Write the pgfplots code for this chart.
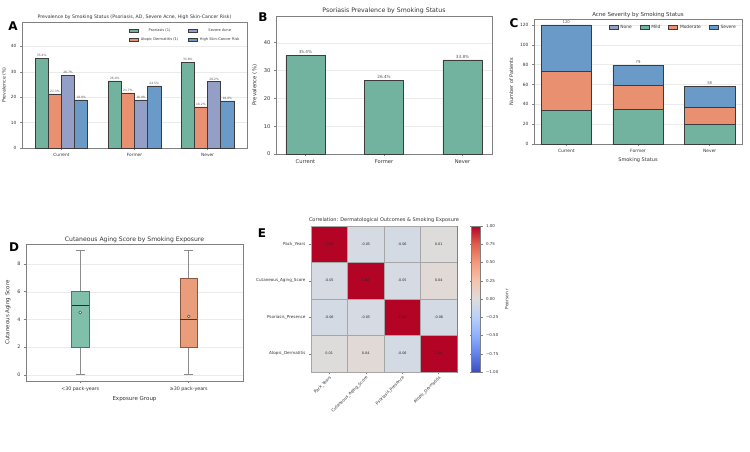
\documentclass[border=0pt]{standalone}
\usepackage{fontspec}
\setmainfont{DejaVu Sans}
\usepackage{pgfplots}
\usepackage{pgfplotstable}
\pgfplotsset{compat=1.18}
\usepgfplotslibrary{statistics}

\definecolor{cpso}{RGB}{114,179,160}
\definecolor{cad}{RGB}{232,144,111}
\definecolor{cacne}{RGB}{147,159,198}
\definecolor{crisk}{RGB}{106,154,200}
\definecolor{edge}{RGB}{60,60,60}
\definecolor{spine}{RGB}{128,128,128}
\definecolor{txt}{RGB}{51,51,51}
\definecolor{lbl}{RGB}{85,85,85}
\definecolor{dgreen}{RGB}{128,192,170}
\definecolor{dgreenedge}{RGB}{70,120,105}
\definecolor{dorange}{RGB}{233,157,123}
\definecolor{dorangeedge}{RGB}{140,88,66}

\pgfplotsset{
  /pgf/number format/assume math mode=true,
  colormap={coolwarm}{rgb255=(59,76,192) rgb255=(98,130,234) rgb255=(141,176,254) rgb255=(184,208,249) rgb255=(221,221,221) rgb255=(245,196,173) rgb255=(244,154,123) rgb255=(222,96,77) rgb255=(180,4,38)},
  lb/.style={legend image code/.code={\draw[##1] (0pt,-1.8pt) rectangle (9pt,1.8pt);}},
  panel/.style={
    scale only axis, anchor=south west,
    axis line style={spine, line width=0.6pt},
    tick align=outside, major tick length=2pt,
    tick style={spine, line width=0.5pt},
    xtick pos=bottom, ytick pos=left,
    ymajorgrids, grid style={black!8, line width=0.4pt},
    tick label style={font=\fontsize{4.7}{5}\selectfont, text=txt},
    label style={font=\fontsize{5}{6}\selectfont, text=txt},
    title style={font=\fontsize{6}{7}\selectfont, text=txt},
  },
}

\pgfplotstableread{
x y c lab
0 0 1.00 1.00
1 0 -0.05 -0.05
2 0 -0.06 -0.06
3 0 0.01 0.01
0 1 -0.05 -0.05
1 1 1.00 1.00
2 1 -0.05 -0.05
3 1 0.04 0.04
0 2 -0.06 -0.06
1 2 -0.05 -0.05
2 2 1.00 1.00
3 2 -0.06 -0.06
0 3 0.01 0.01
1 3 0.04 0.04
2 3 -0.06 -0.06
3 3 1.00 1.00
}\corrtab

\begin{document}
\begin{tikzpicture}
\path[use as bounding box] (0pt,0pt) rectangle (750pt,451pt);

% ---------------- Panel A ----------------
\begin{axis}[panel, at={(22pt,303pt)}, width=225pt, height=126pt,
  xmin=-0.54, xmax=2.54, ymin=0, ymax=49.6,
  ybar=0pt, bar width=0.18,
  xtick={0,1,2}, xticklabels={Current,Former,Never},
  ytick={0,10,20,30,40},
  tick label style={font=\fontsize{4.3}{5}\selectfont, text=txt},
  ylabel={Prevalence (\%)},
  label style={font=\fontsize{4.7}{5}\selectfont, text=txt},
  ylabel style={yshift=-2pt},
  title={Prevalence by Smoking Status (Psoriasis, AD, Severe Acne, High Skin-Cancer Risk)},
  title style={font=\fontsize{4.7}{5}\selectfont, text=txt, yshift=-7.5pt},
  nodes near coords={\pgfmathprintnumber[fixed,fixed zerofill,precision=1]{\pgfplotspointmeta}\%},
  nodes near coords style={font=\fontsize{3}{3.5}\selectfont, text=lbl, inner sep=1pt},
  legend columns=2, transpose legend,
  legend style={at={(0.99,0.98)}, anchor=north east, draw=none, fill=none,
    font=\fontsize{3.6}{4.2}\selectfont, text=txt,
    /tikz/every even column/.append style={column sep=8pt}, row sep=0.5pt},
]
\addplot[lb, fill=cpso, draw=edge, line width=0.5pt] coordinates {(0,35.4) (1,26.4) (2,33.8)};
\addlegendentry{Psoriasis (1)}
\addplot[lb, fill=cad, draw=edge, line width=0.5pt] coordinates {(0,21.3) (1,21.7) (2,16.2)};
\addlegendentry{Atopic Dermatitis (1)}
\addplot[lb, fill=cacne, draw=edge, line width=0.5pt] coordinates {(0,28.7) (1,18.9) (2,26.2)};
\addlegendentry{Severe Acne}
\addplot[lb, fill=crisk, draw=edge, line width=0.5pt] coordinates {(0,18.9) (1,24.5) (2,18.6)};
\addlegendentry{High Skin-Cancer Risk}
\end{axis}

% ---------------- Panel B ----------------
\begin{axis}[panel, at={(276pt,297pt)}, width=216pt, height=138pt,
  xmin=-0.375, xmax=2.375, ymin=0, ymax=49.6,
  ybar, bar width=0.5,
  xtick={0,1,2}, xticklabels={Current,Former,Never},
  ytick={0,10,20,30,40},
  tick label style={font=\fontsize{5.2}{6}\selectfont, text=txt},
  ylabel={Prevalence (\%)},
  label style={font=\fontsize{5.4}{6}\selectfont, text=txt},
  title={Psoriasis Prevalence by Smoking Status},
  title style={font=\fontsize{6.2}{7}\selectfont, text=txt, yshift=-7pt},
  nodes near coords={\pgfmathprintnumber[fixed,fixed zerofill,precision=1]{\pgfplotspointmeta}\%},
  nodes near coords style={font=\fontsize{4.2}{5}\selectfont, text=lbl, inner sep=1.5pt},
]
\addplot[fill=cpso, draw=edge, line width=0.6pt] coordinates {(0,35.4) (1,26.4) (2,33.8)};
\end{axis}

% ---------------- Panel C ----------------
\begin{axis}[panel, at={(534pt,307pt)}, width=208pt, height=125pt,
  xmin=-0.45, xmax=2.45, ymin=0, ymax=126,
  ybar stacked, bar width=0.7,
  xtick={0,1,2}, xticklabels={Current,Former,Never},
  ytick={0,20,40,60,80,100,120},
  tick label style={font=\fontsize{4.4}{5}\selectfont, text=txt},
  xlabel={Smoking Status}, ylabel={Number of Patients},
  label style={font=\fontsize{5}{6}\selectfont, text=txt},
  xlabel style={yshift=2pt},
  title={Acne Severity by Smoking Status},
  title style={font=\fontsize{5.5}{6}\selectfont, text=txt, yshift=-8.5pt},
  legend columns=4,
  legend style={at={(0.995,0.985)}, anchor=north east, draw=none, fill=none,
    font=\fontsize{4.4}{5}\selectfont, text=txt,
    /tikz/every even column/.append style={column sep=6pt}},
]
\addlegendimage{lb, fill=cacne, draw=edge, line width=0.5pt}
\addlegendentry{None}
\addplot[lb, fill=cpso, draw=edge, line width=0.6pt] coordinates {(0,34) (1,35) (2,20)};
\addlegendentry{Mild}
\addplot[lb, fill=cad, draw=edge, line width=0.6pt] coordinates {(0,39) (1,24) (2,17)};
\addlegendentry{Moderate}
\addplot[lb, fill=crisk, draw=edge, line width=0.6pt] coordinates {(0,47) (1,20) (2,21)};
\addlegendentry{Severe}
\end{axis}
% totals above the stacked bars (same frame as panel C)
\begin{axis}[at={(534pt,307pt)}, anchor=south west, scale only axis,
  width=208pt, height=125pt, xmin=-0.45, xmax=2.45, ymin=0, ymax=126,
  hide axis, clip=false]
\addplot[draw=none, mark=none, nodes near coords, point meta=explicit symbolic,
  nodes near coords style={font=\fontsize{3.8}{4}\selectfont, text=lbl, anchor=south, inner sep=1.5pt}]
  coordinates {(0,120) [120] (1,79) [79] (2,58) [58]};
\end{axis}

% ---------------- Panel D ----------------
\begin{axis}[panel, at={(26pt,70pt)}, width=217pt, height=137pt,
  xmin=-0.5, xmax=1.5, ymin=-0.45, ymax=9.45,
  xtick={0,1}, xticklabels={<30 pack-years,≥30 pack-years},
  ytick={0,2,4,6,8},
  tick label style={font=\fontsize{4.8}{5}\selectfont, text=txt},
  xlabel={Exposure Group}, ylabel={Cutaneous Aging Score},
  label style={font=\fontsize{5.5}{6}\selectfont, text=txt},
  xlabel style={yshift=2pt},
  title={Cutaneous Aging Score by Smoking Exposure},
  title style={font=\fontsize{6.1}{7}\selectfont, text=txt, yshift=-8.5pt},
  boxplot/draw direction=y,
]
\addplot[fill=dgreen, draw=dgreenedge, line width=0.7pt,
  boxplot prepared={draw position=0, median=5, lower quartile=2, upper quartile=6,
    lower whisker=0, upper whisker=9, box extend=0.16, whisker extend=0.08,
    every whisker/.style={draw=black!45, line width=0.7pt},
    every median/.style={draw=black!60!dgreenedge, line width=1.1pt}}]
  coordinates {};
\addplot[fill=dorange, draw=dorangeedge, line width=0.7pt,
  boxplot prepared={draw position=1, median=4, lower quartile=2, upper quartile=7,
    lower whisker=0, upper whisker=9, box extend=0.16, whisker extend=0.08,
    every whisker/.style={draw=black!45, line width=0.7pt},
    every median/.style={draw=black!40!dorangeedge, line width=1.1pt}}]
  coordinates {};
\addplot[only marks, mark=*, mark size=1.4pt, mark options={fill=white, draw=black!70, line width=0.5pt}]
  coordinates {(0,4.5) (1,4.22)};
\end{axis}

% ---------------- Panel E ----------------
\begin{axis}[at={(311pt,79pt)}, anchor=south west, scale only axis,
  width=146pt, height=146pt,
  xmin=-0.5, xmax=3.5, ymin=-0.5, ymax=3.5, y dir=reverse,
  enlargelimits=false,
  axis line style={spine, line width=0.6pt},
  tick align=outside, major tick length=2pt,
  tick style={spine, line width=0.5pt},
  xtick pos=bottom, ytick pos=left,
  xtick={0,1,2,3}, ytick={0,1,2,3},
  xticklabels={Pack\_Years,Cutaneous\_Aging\_Score,Psoriasis\_Presence,Atopic\_Dermatitis},
  yticklabels={Pack\_Years,Cutaneous\_Aging\_Score,Psoriasis\_Presence,Atopic\_Dermatitis},
  tick label style={font=\fontsize{4.1}{5}\selectfont, text=txt},
  xticklabel style={rotate=45, anchor=north east, inner sep=1pt},
  title={Correlation: Dermatological Outcomes \& Smoking Exposure},
  title style={font=\fontsize{5}{6}\selectfont, text=txt, yshift=-6.5pt},
  colormap name=coolwarm,
  point meta min=-1, point meta max=1,
  colorbar,
  colorbar style={
    at={(parent axis.north east)}, anchor=north west, xshift=6pt,
    width=9pt,
    axis line style={spine, line width=0.5pt},
    ytick={-1,-0.75,-0.5,-0.25,0,0.25,0.5,0.75,1},
    yticklabels={−1.00,−0.75,−0.50,−0.25,0.00,0.25,0.50,0.75,1.00},
    yticklabel style={font=\fontsize{4}{5}\selectfont, text=txt},
    major tick length=2pt, tick align=outside, tick style={spine},
    ylabel={Pearson r}, ylabel near ticks, yticklabel pos=right,
    ylabel style={font=\fontsize{4.4}{5}\selectfont, text=txt},
  },
]
\addplot[matrix plot*, mesh/cols=4, point meta=explicit, shader=faceted, faceted color=black!35]
  table[x=x, y=y, meta=c] {\corrtab};
\addplot[draw=none, mark=none, nodes near coords, point meta=explicit symbolic,
  nodes near coords style={font=\fontsize{3.4}{4}\selectfont, text=black!85, anchor=center}]
  table[x=x, y=y, meta=lab] {\corrtab};
\end{axis}

% panel letters
\node[font=\bfseries\fontsize{12}{12}\selectfont] at (13pt,425pt) {A};
\node[font=\bfseries\fontsize{12}{12}\selectfont] at (263pt,434pt) {B};
\node[font=\bfseries\fontsize{12}{12}\selectfont] at (514pt,428pt) {C};
\node[font=\bfseries\fontsize{12}{12}\selectfont] at (14pt,204pt) {D};
\node[font=\bfseries\fontsize{12}{12}\selectfont] at (262pt,218pt) {E};
\end{tikzpicture}
\end{document}
